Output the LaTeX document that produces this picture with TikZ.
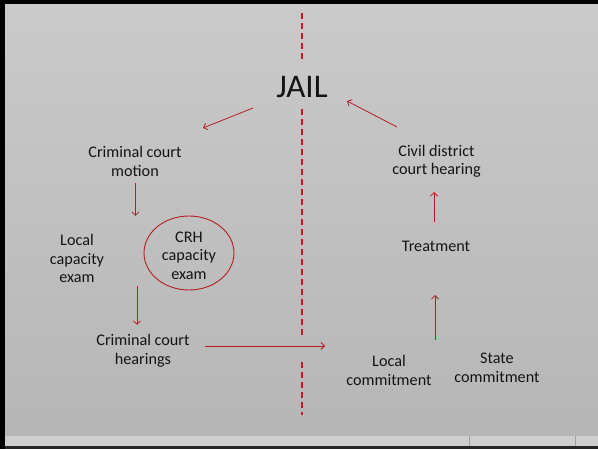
\documentclass[tikz,border=0pt]{standalone}
\usepackage{fontspec}
\setmainfont{Carlito}
\usetikzlibrary{arrows.meta,shapes.geometric}
\definecolor{dred}{RGB}{190,28,36}
\definecolor{ared}{RGB}{178,30,34}
\definecolor{bgtop}{RGB}{202,202,202}
\definecolor{bgbot}{RGB}{182,182,182}
\definecolor{strip}{RGB}{206,206,206}
\definecolor{txt}{RGB}{20,20,20}
\begin{document}
\begin{tikzpicture}[x=1pt,y=-1pt,
  lbl/.style={align=center,font=\fontsize{16.2}{18.5}\selectfont,text=txt,inner sep=0pt},
  arr/.style={draw=ared,line width=0.8pt,-{Straight Barb[length=3.5pt,width=7pt]}},
  divider/.style={draw=dred,line width=1.6pt,dash pattern=on 6pt off 4pt}]
\useasboundingbox (0,0) rectangle (598,449);
% background
\shade[top color=bgtop,bottom color=bgbot] (0,0) rectangle (598,436);
\fill[strip] (0,436) rectangle (598,446);
\draw[gray!75,line width=1pt] (469,436) -- (469,446) (575,436) -- (575,446);
\fill[black!85] (0,446) rectangle (598,449);
\fill[black] (0,0) rectangle (4.5,449);
\fill[black] (0,0) rectangle (598,4);
% divider
\coordinate (d1) at (302,13);
\coordinate (d2) at (302,62);
\coordinate (d3) at (302,109);
\coordinate (d4) at (302,338);
\coordinate (d5) at (302,362);
\coordinate (d6) at (302,415);
\draw[divider] (d1) -- (d2) (d3) -- (d4) (d5) -- (d6);
% nodes
\node[lbl,font=\fontsize{33}{36}\selectfont] (jail) at (302,87) {JAIL};
\node[lbl] (ccm) at (135,161.5) {Criminal court\\motion};
\node[lbl] (lce) at (77,258.5) {Local\\capacity\\exam};
\node[draw=ared,line width=0.9pt,ellipse,minimum width=90pt,minimum height=74pt,inner sep=0pt] (crhe) at (189,253) {};
\node[lbl] (crh) at (189,255.5) {CRH\\capacity\\exam};
\node[lbl] (cch) at (143,351) {Criminal court\\hearings};
\node[lbl] (lc) at (389,370.5) {Local\\commitment};
\node[lbl] (sc) at (497,368) {State\\commitment};
\node[lbl] (tr) at (436,246) {Treatment};
\node[lbl] (cdc) at (436.5,161.5) {Civil district\\court hearing};
% arrow end points
\coordinate (a1s) at (253,108);  \coordinate (a1e) at (203,128);
\coordinate (a2s) at (397,127);  \coordinate (a2e) at (347,101);
\coordinate (a3s) at (135.5,183); \coordinate (a3e) at (135.5,216);
\coordinate (a4s) at (137,286);  \coordinate (a4e) at (137,325);
\coordinate (a5s) at (205,346);  \coordinate (a5e) at (325,346);
\coordinate (a6s) at (435,340);  \coordinate (a6e) at (435,295);
\coordinate (a7s) at (434,222);  \coordinate (a7e) at (434,192);
% arrows
\draw[arr] (a1s) -- (a1e);
\draw[arr] (a2s) -- (a2e);
\draw[arr] (a3s) -- (a3e);
\draw[arr] (a4s) -- (a4e);
\draw[arr] (a5s) -- (a5e);
\draw[arr] (a6s) -- (a6e);
\draw[arr] (a7s) -- (a7e);
\end{tikzpicture}
\end{document}
